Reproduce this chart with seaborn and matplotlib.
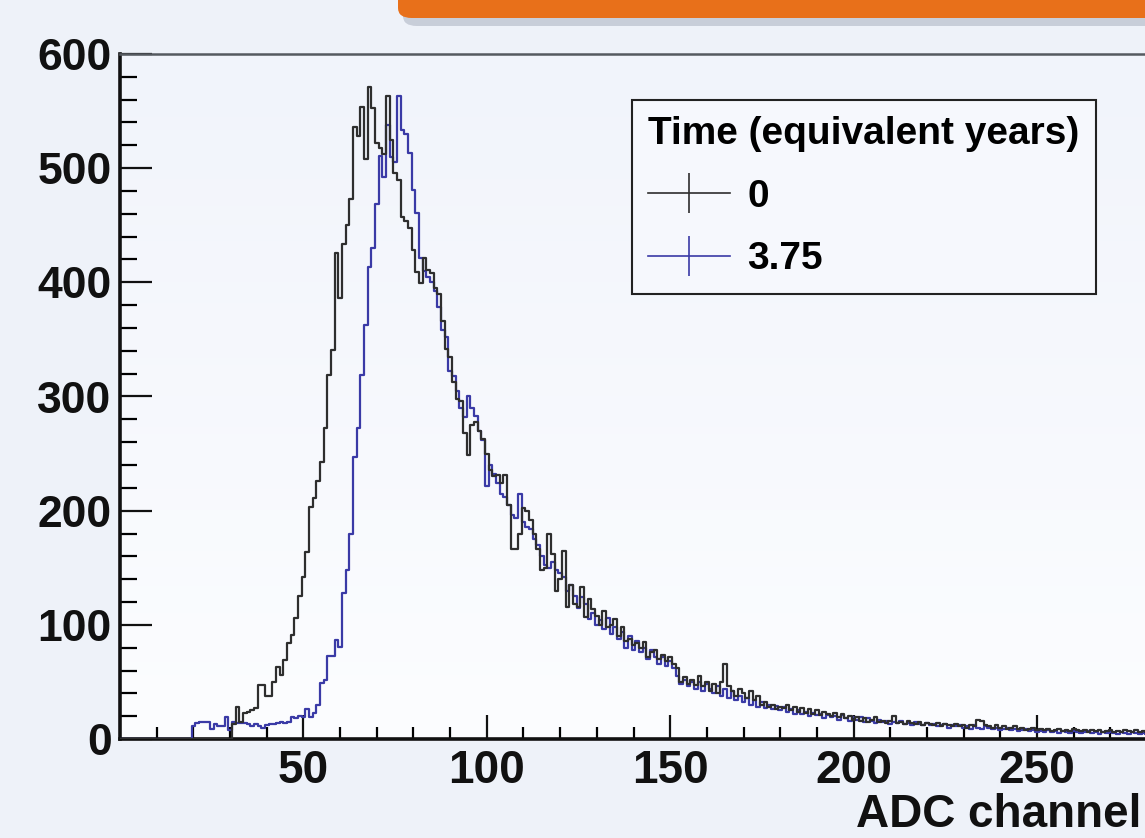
import numpy as np
import pandas as pd
import matplotlib
matplotlib.use("Agg")
import matplotlib.pyplot as plt
from matplotlib.lines import Line2D
from matplotlib.patches import FancyBboxPatch
from matplotlib.colors import LinearSegmentedColormap
import seaborn as sns

# ---------------- data (counts per ADC channel, bins centred on integers) ----------------
black_first = 31
black_counts = [
    13, 28, 15, 23, 24, 25, 27, 47, 47, 38,
    38, 50, 63, 56, 69, 84, 91, 106, 125, 142,
    164, 203, 211, 226, 243, 272, 319, 341, 426, 386,
    434, 450, 473, 536, 528, 554, 508, 571, 553, 522,
    518, 512, 563, 525, 496, 490, 457, 454, 448, 428,
    409, 399, 421, 411, 408, 395, 390, 366, 342, 335,
    313, 298, 296, 268, 249, 275, 278, 270, 263, 250,
    236, 230, 231, 224, 231, 205, 166, 166, 180, 202,
    200, 192, 180, 166, 148, 150, 180, 162, 130, 140,
    165, 116, 135, 118, 116, 133, 107, 123, 114, 108,
    100, 112, 98, 100, 105, 90, 98, 86, 88, 82,
    84, 80, 85, 72, 76, 78, 70, 74, 68, 72,
    66, 62, 50, 54, 48, 52, 47, 55, 46, 50,
    42, 48, 40, 50, 66, 46, 42, 38, 44, 40,
    36, 42, 34, 38, 30, 32, 28, 30, 26, 28,
    27, 30, 25, 28, 24, 27, 23, 26, 22, 25,
    21, 24, 22, 20, 23, 19, 22, 18, 20, 17,
    19, 16, 18, 15, 17, 19, 15, 16, 14, 16,
    20, 14, 15, 13, 16, 14, 13, 15, 12, 14,
    13, 12, 14, 11, 13, 12, 11, 13, 11, 12,
    10, 12, 11, 17, 16, 12, 11, 10, 12, 10,
    11, 9, 10, 11, 9, 10, 8, 9, 10, 8,
    9, 8, 9, 7, 8, 9, 7, 8, 7, 9,
    8, 7, 8, 6, 8, 7, 8, 6, 7, 8,
    6, 7, 6, 8, 7, 6, 8, 6, 7, 6,
    7, 6, 5, 7, 6, 5, 6, 7, 5, 6,
]
blue_first = 20
blue_counts = [
    11, 14, 15, 15, 15, 9, 13, 11, 11, 19, 8,
    15, 14, 14, 14, 13, 11, 13, 11, 10, 12,
    13, 13, 14, 15, 14, 15, 19, 18, 20, 19,
    26, 19, 23, 30, 49, 52, 73, 73, 87, 81,
    128, 148, 180, 247, 272, 319, 363, 413, 430, 469,
    511, 492, 538, 510, 505, 563, 533, 530, 513, 481,
    461, 421, 410, 405, 400, 392, 378, 358, 352, 322,
    318, 305, 290, 282, 300, 290, 283, 270, 262, 222,
    240, 232, 224, 215, 212, 205, 196, 194, 215, 190,
    186, 184, 175, 170, 160, 152, 150, 155, 148, 145,
    142, 130, 135, 125, 115, 124, 118, 105, 110, 100,
    104, 96, 106, 92, 98, 88, 94, 80, 90, 78,
    86, 76, 80, 70, 78, 72, 66, 72, 64, 68,
    62, 55, 48, 52, 46, 50, 44, 50, 42, 48,
    44, 40, 46, 38, 44, 36, 42, 34, 38, 32,
    36, 30, 34, 28, 32, 27, 30, 26, 29, 25,
    28, 24, 26, 22, 25, 22, 24, 20, 23, 21,
    22, 18, 21, 19, 20, 17, 21, 18, 16, 19,
    17, 19, 15, 18, 16, 14, 17, 15, 16, 13,
    15, 14, 16, 13, 14, 12, 15, 13, 12, 14,
    12, 13, 11, 12, 13, 10, 12, 11, 12, 10,
    11, 9, 12, 10, 9, 11, 10, 9, 10, 8,
    9, 10, 8, 9, 7, 8, 9, 7, 8, 6,
    7, 6, 8, 6, 7, 5, 7, 6, 5, 7,
    6, 5, 6, 7, 5, 6, 4, 6, 5, 6,
    5, 4, 6, 5, 4, 6, 5, 4, 5, 4,
    5, 4, 5, 4, 3, 5, 4, 5, 4, 4,
]
series_labels = ["0", "3.75"]
legend_title = "Time (equivalent years)"
x_label = "ADC channel"
y_ticks = [0, 100, 200, 300, 400, 500, 600]
x_ticks = [50, 100, 150, 200, 250]

# ---------------- build long table ----------------
df = pd.concat([
    pd.DataFrame({"channel": np.arange(black_first, black_first + len(black_counts)),
                  "count": black_counts, "series": series_labels[0]}),
    pd.DataFrame({"channel": np.arange(blue_first, blue_first + len(blue_counts)),
                  "count": blue_counts, "series": series_labels[1]}),
], ignore_index=True)

# ---------------- figure ----------------
W, H = 1145, 838
fig = plt.figure(figsize=(W / 100, H / 100), dpi=100)
fig.patch.set_facecolor("#eef2f9")

FONT = "Liberation Sans"

# orange banner at top (slide decoration)
shadow = FancyBboxPatch((403 / W, (H - 26) / H), 1.0, 0.06,
                        boxstyle="round,pad=0,rounding_size=0.012",
                        transform=fig.transFigure, facecolor="#b9bfcc",
                        edgecolor="none", alpha=0.7, zorder=0)
banner = FancyBboxPatch((398 / W, (H - 18) / H), 1.0, 0.06,
                        boxstyle="round,pad=0,rounding_size=0.012",
                        transform=fig.transFigure, facecolor="#e8701a",
                        edgecolor="none", zorder=1)
fig.patches.extend([shadow, banner])

px_per_unit = 3.668
ax = fig.add_axes([120 / W, (H - 739) / H, 300 * px_per_unit / W, (739 - 54) / H])
ax.set_facecolor("#f7f9fd")

# gradient background inside plot area
grad = np.linspace(0, 1, 256).reshape(-1, 1)
cmap_bg = LinearSegmentedColormap.from_list("bg", ["#fcfdff", "#f1f4fb"])
ax.imshow(grad, extent=[0, 300, 0, 600], origin="lower", aspect="auto",
          cmap=cmap_bg, zorder=0)

palette = {series_labels[0]: "#2e2e2e", series_labels[1]: "#3a3aa6"}
sns.histplot(data=df, x="channel", weights="count", hue="series",
             hue_order=series_labels, binwidth=1, binrange=(-0.5, 299.5),
             element="step", fill=False, common_bins=True,
             palette=palette, linewidth=1.6, legend=False, ax=ax, zorder=3)

ax.set_xlim(0, 300)
ax.set_ylim(0, 600)
ax.set_xlabel("")
ax.set_ylabel("")

# spines
for s in ["left", "bottom"]:
    ax.spines[s].set_linewidth(2.6)
    ax.spines[s].set_color("#111111")
ax.spines["top"].set_linewidth(1.8)
ax.spines["top"].set_color("#555a60")
ax.spines["right"].set_linewidth(1.8)
ax.spines["right"].set_color("#555a60")

# ticks (ROOT style, inward)
ax.set_yticks(y_ticks)
ax.set_yticks(np.arange(0, 601, 20), minor=True)
ax.set_xticks(x_ticks)
ax.set_xticks(np.arange(10, 300, 10), minor=True)
ax.tick_params(axis="y", which="major", direction="in", length=23, width=1.6,
               pad=6, labelsize=32, colors="#111111", right=False)
ax.tick_params(axis="y", which="minor", direction="in", length=12, width=1.6,
               right=False)
ax.tick_params(axis="x", which="major", direction="in", length=17, width=1.6,
               pad=7, labelsize=33, colors="#111111", top=False)
ax.tick_params(axis="x", which="minor", direction="in", length=9, width=1.6,
               top=False)
for lab in ax.get_xticklabels() + ax.get_yticklabels():
    lab.set_fontfamily(FONT)
    lab.set_fontweight("bold")

# x title, right end of the axis (kept inside the page)
fig.text(856 / W, (H - 827) / H, x_label, fontsize=33, fontweight="bold",
         family=FONT, ha="left", va="baseline", color="#111111")

# legend
handles = [Line2D([0], [0], color=palette[s], lw=1.2, marker="|",
                  markersize=29, markeredgewidth=1.2) for s in series_labels]
leg = ax.legend(handles, series_labels, title=legend_title,
                loc="upper left", bbox_to_anchor=(632 / W, 1 - 100 / H),
                bbox_transform=fig.transFigure, frameon=True, fancybox=False,
                edgecolor="#222222", facecolor="#f6f8fd", framealpha=1,
                prop={"family": FONT, "weight": "bold", "size": 28},
                title_fontproperties={"family": FONT, "weight": "bold", "size": 28},
                alignment="left", handlelength=2.1, handletextpad=0.45,
                labelspacing=0.68, borderpad=0.42, borderaxespad=0)
leg.get_frame().set_linewidth(1.5)
leg.set_zorder(5)

fig.savefig("out.png", dpi=100, facecolor=fig.get_facecolor())
